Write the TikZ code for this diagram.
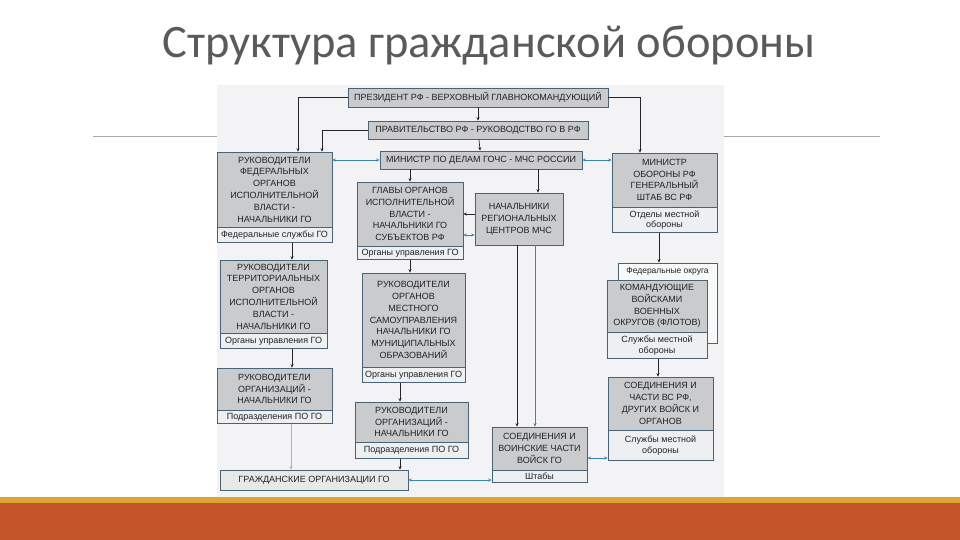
\documentclass[tikz,border=0pt]{standalone}
\usepackage{fontspec}
\setmainfont{Liberation Sans}
\newfontfamily\titlefont{Carlito}
\usetikzlibrary{arrows.meta}
\usetikzlibrary{positioning}

\definecolor{boxgray}{HTML}{C9CBCD}
\definecolor{footgray}{HTML}{EDEFF1}
\definecolor{edge}{HTML}{4A6275}
\definecolor{ink}{HTML}{222222}
\definecolor{linkcol}{HTML}{3A86A8}
\definecolor{panel}{HTML}{F3F2F4}
\definecolor{titlegray}{HTML}{5A5A5A}
\definecolor{barorange}{HTML}{C4552A}
\definecolor{bargold}{HTML}{DFA234}

\tikzset{
  head/.style={draw=edge, fill=boxgray, line width=0.6pt, align=center, inner sep=1pt,
    text=ink, font=\fontsize{9}{11.8}\selectfont},
  foot/.style={draw=edge, fill=footgray, line width=0.6pt, align=center, inner sep=1pt,
    text=ink, font=\fontsize{9}{10.8}\selectfont},
  arr/.style={-{Stealth[length=3.5pt,width=3pt]}, line width=0.7pt, black!85},
  link/.style={{Stealth[length=3.5pt,width=3pt]}-{Stealth[length=3.5pt,width=3pt]},
    line width=0.7pt, linkcol},
}

\begin{document}
\begin{tikzpicture}[x=1pt,y=-1pt]
\useasboundingbox (0,0) rectangle (960,540);

% slide: title, rules, bottom bar
\node[font=\titlefont\fontsize{46.5}{46.5}\selectfont, text=titlegray] (title) at (489,45) {Структура гражданской обороны};
\draw[black!35, line width=0.8pt] (93,136) -- (217,136);
\draw[black!35, line width=0.8pt] (724,136) -- (880,136);
\fill[bargold] (0,497) rectangle (960,503);
\fill[barorange] (0,503) rectangle (960,540);

% panel behind the scheme
\fill[panel] (217,85) rectangle (724,497);

% top of the chain
\node[head, minimum width=260pt, minimum height=19pt] (pres) at (478,97.5) {ПРЕЗИДЕНТ РФ - ВЕРХОВНЫЙ ГЛАВНОКОМАНДУЮЩИЙ};
\node[head, minimum width=220pt, minimum height=18pt] (gov) at (478,130) {ПРАВИТЕЛЬСТВО РФ - РУКОВОДСТВО ГО В РФ};
\node[head, minimum width=202pt, minimum height=18pt] (mchs) at (481,160) {МИНИСТР ПО ДЕЛАМ ГОЧС - МЧС РОССИИ};

% left column
\node[head, minimum width=115pt, minimum height=75pt] (fed) at (274.5,189.5) {РУКОВОДИТЕЛИ\\ФЕДЕРАЛЬНЫХ\\ОРГАНОВ\\ИСПОЛНИТЕЛЬНОЙ\\ВЛАСТИ -\\НАЧАЛЬНИКИ ГО};
\node[foot, minimum width=115pt, minimum height=15pt, below=0pt of fed] (fedF) {Федеральные службы ГО};
\node[head, minimum width=107pt, minimum height=73pt] (terr) at (273.5,296.5) {РУКОВОДИТЕЛИ\\ТЕРРИТОРИАЛЬНЫХ\\ОРГАНОВ\\ИСПОЛНИТЕЛЬНОЙ\\ВЛАСТИ -\\НАЧАЛЬНИКИ ГО};
\node[foot, minimum width=107pt, minimum height=15pt, below=0pt of terr] (terrF) {Органы управления ГО};
\node[head, minimum width=115pt, minimum height=42pt] (orgA) at (274.5,389) {РУКОВОДИТЕЛИ\\ОРГАНИЗАЦИЙ -\\НАЧАЛЬНИКИ ГО};
\node[foot, minimum width=115pt, minimum height=13pt, below=0pt of orgA] (orgAF) {Подразделения ПО ГО};
\node[foot, minimum width=188pt, minimum height=20pt, fill=boxgray!45] (grazh) at (314,480) {ГРАЖДАНСКИЕ ОРГАНИЗАЦИИ ГО};

% middle column
\node[head, minimum width=106pt, minimum height=64pt] (glavy) at (410,214) {ГЛАВЫ ОРГАНОВ\\ИСПОЛНИТЕЛЬНОЙ\\ВЛАСТИ -\\НАЧАЛЬНИКИ ГО\\СУБЪЕКТОВ РФ};
\node[foot, minimum width=106pt, minimum height=13pt, below=0pt of glavy] (glavyF) {Органы управления ГО};
\node[head, minimum width=88pt, minimum height=52pt] (reg) at (519,219) {НАЧАЛЬНИКИ\\РЕГИОНАЛЬНЫХ\\ЦЕНТРОВ МЧС};
\node[head, minimum width=103pt, minimum height=94pt] (mun) at (413.5,320) {РУКОВОДИТЕЛИ\\ОРГАНОВ\\МЕСТНОГО\\САМОУПРАВЛЕНИЯ\\НАЧАЛЬНИКИ ГО\\МУНИЦИПАЛЬНЫХ\\ОБРАЗОВАНИЙ};
\node[foot, minimum width=103pt, minimum height=15pt, below=0pt of mun] (munF) {Органы управления ГО};
\node[head, minimum width=113pt, minimum height=40pt] (orgB) at (411.5,422) {РУКОВОДИТЕЛИ\\ОРГАНИЗАЦИЙ -\\НАЧАЛЬНИКИ ГО};
\node[foot, minimum width=113pt, minimum height=16pt, below=0pt of orgB] (orgBF) {Подразделения ПО ГО};
\node[head, minimum width=95pt, minimum height=43pt] (soed) at (539.5,448.5) {СОЕДИНЕНИЯ И\\ВОИНСКИЕ ЧАСТИ\\ВОЙСК ГО};
\node[foot, minimum width=95pt, minimum height=12pt, below=0pt of soed] (soedF) {Штабы};

% right column
\node[head, minimum width=105pt, minimum height=54pt] (mod) at (664.5,180) {МИНИСТР\\ОБОРОНЫ РФ\\ГЕНЕРАЛЬНЫЙ\\ШТАБ ВС РФ};
\node[foot, minimum width=105pt, minimum height=25pt, below=0pt of mod] (modF) {Отделы местной\\обороны};
\node[foot, fill=footgray!40, minimum width=99pt, minimum height=80pt] (okr) at (667.5,303) {};
\node[font=\fontsize{8.5}{10}\selectfont, text=ink, below=1.5pt of okr.north] (okrT) {Федеральные округа};
\node[head, minimum width=100pt, minimum height=52pt] (vd) at (657,306) {КОМАНДУЮЩИЕ\\ВОЙСКАМИ\\ВОЕННЫХ\\ОКРУГОВ (ФЛОТОВ)};
\node[foot, minimum width=100pt, minimum height=26pt, below=0pt of vd] (vdF) {Службы местной\\обороны};
\node[head, minimum width=105pt, minimum height=53pt] (vs) at (660.5,403.5) {СОЕДИНЕНИЯ И\\ЧАСТИ ВС РФ,\\ДРУГИХ ВОЙСК И\\ОРГАНОВ};
\node[foot, minimum width=105pt, minimum height=30pt, below=0pt of vs] (vsF) {Службы местной\\обороны};

% chain of command
\draw[arr] (pres) -- (gov);
\draw[arr] (gov) -- (mchs);
\draw[arr] (pres.west) -| ([xshift=23.5pt]fed.north);
\draw[arr] (gov.west) -| ([xshift=47.5pt]fed.north);
\draw[arr] (pres.east) -| ([xshift=-24.5pt]mod.north);
\draw[arr] (glavy.north |- mchs.south) -- (glavy.north);
\draw[arr] ([xshift=19pt]reg.north |- mchs.south) -- ([xshift=19pt]reg.north);
\draw[arr] ([yshift=5pt]reg.west) -- ([yshift=5pt]reg.west -| glavy.east);
\draw[arr] ([xshift=-2pt]reg.south) -- ([xshift=-2pt]reg.south |- soed.north);
\draw[arr, linkcol] ([xshift=16pt]reg.south) -- ([xshift=16pt]reg.south |- soed.north);

% down the left column
\draw[arr] ([xshift=17.5pt]fedF.south) -- ([xshift=17.5pt]fedF.south |- terr.north);
\draw[arr] ([xshift=18.5pt]terrF.south) -- ([xshift=18.5pt]terrF.south |- orgA.north);
\draw[arr, draw=black!30] ([xshift=16.5pt]orgAF.south) -- ([xshift=16.5pt]orgAF.south |- grazh.north);

% down the middle column
\draw[arr] (glavyF.south) -- (glavyF.south |- mun.north);
\draw[arr] ([xshift=-13.5pt]munF.south) -- ([xshift=-13.5pt]munF.south |- orgB.north);
\draw[arr] ([xshift=-11.5pt]orgBF.south) -- ([xshift=-11.5pt]orgBF.south |- grazh.north);

% down the right column
\draw[arr] ([xshift=-5.5pt]modF.south) -- ([xshift=-5.5pt]modF.south |- okr.north);
\draw[arr] ([xshift=1pt]vdF.south) -- ([xshift=1pt]vdF.south |- vs.north);

% cooperation links
\draw[link] (mchs.west -| fed.east) -- (mchs.west);
\draw[link] (mchs.east) -- (mchs.east -| mod.west);
\draw[link] ([yshift=-16pt]reg.west) -- ([yshift=-16pt]reg.west -| glavy.east);
\draw[link] ([yshift=-9.5pt]soed.east) -- ([yshift=-9.5pt]soed.east -| vs.west);
\draw[link] (grazh.east) -- (grazh.east -| soed.west);

\end{tikzpicture}
\end{document}
